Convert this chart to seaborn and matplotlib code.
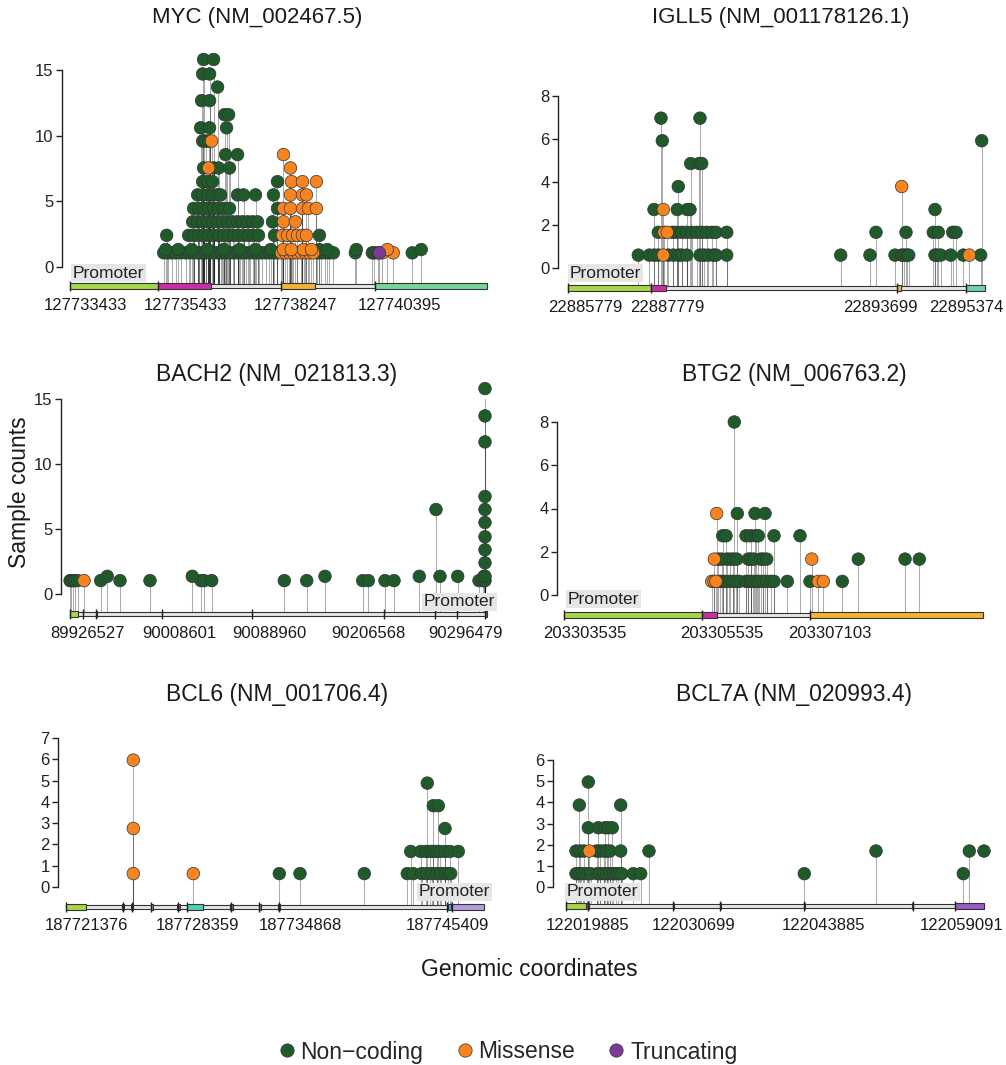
import numpy as np
import pandas as pd
import matplotlib
matplotlib.use("Agg")
import matplotlib.pyplot as plt
from matplotlib.patches import Rectangle
from matplotlib.lines import Line2D
import seaborn as sns

sns.set_theme(style="ticks")
plt.rcParams["font.family"] = ["Liberation Sans", "DejaVu Sans"]

# ---- data: (display height, kind, genomic positions) ----
kind_names = {"N": "Non\u2212coding", "M": "Missense", "T": "Truncating"}

myc_muts = [
    (1.08, "N", [127735570, 127735661, 127735752, 127735843, 127735957, 127736071, 127736162,
                 127736253, 127736344, 127736435, 127736526, 127736617, 127736708, 127736799,
                 127736890, 127736981, 127737072, 127737164, 127737255, 127737346, 127737437,
                 127737528, 127737619, 127737710, 127737801, 127737892, 127737983, 127738074,
                 127738165, 127739076, 127739167, 127739258, 127739349, 127739440,
                 127739941, 127740329, 127740374, 127740465, 127741239]),
    (1.08, "M", [127738256, 127738347, 127738438, 127738530, 127738621, 127738712, 127738803,
                 127738894, 127738985, 127740556, 127740807]),
    (1.08, "T", [127740488]),
    (1.33, "N", [127735615, 127735900, 127736210, 127736570, 127736940, 127737300, 127737660,
                 127738010, 127739120, 127739300, 127739964, 127741444]),
    (1.33, "M", [127738300, 127738480, 127738760, 127738940, 127740670]),
    (2.41, "N", [127735638, 127736139, 127736253, 127736367, 127736480, 127736594, 127736708,
                 127736822, 127736936, 127737050, 127737164, 127737277, 127737391, 127737505,
                 127737619, 127737733, 127738097, 127739122]),
    (2.41, "M", [127738279, 127738393, 127738507, 127738621, 127738735, 127738826]),
    (3.44, "N", [127736230, 127736344, 127736458, 127736572, 127736685, 127736799, 127736913,
                 127737027, 127737141, 127737255, 127737368, 127737482, 127737596, 127737710,
                 127738052]),
    (3.44, "M", [127738302, 127738575]),
    (4.46, "N", [127736253, 127736367, 127736480, 127736594, 127736708, 127736822, 127736936,
                 127737072, 127738165]),
    (4.46, "M", [127738302, 127738461, 127738735, 127738871, 127739053]),
    (5.49, "N", [127736344, 127736458, 127736572, 127736685, 127736799, 127736868, 127737255,
                 127737391, 127737664, 127738074]),
    (5.49, "M", [127738461, 127738735, 127738826]),
    (6.5, "N", [127736458, 127736572, 127736685, 127738165]),
    (6.5, "M", [127738484, 127738735, 127739053]),
    (7.54, "N", [127736480, 127736708, 127736822, 127737072]),
    (7.54, "M", [127736594, 127738461]),
    (8.56, "N", [127736981, 127737255]),
    (8.56, "M", [127738302]),
    (9.59, "N", [127736458, 127736526, 127736594]),
    (9.59, "M", [127736663]),
    (10.6, "N", [127736412, 127736617, 127737004]),
    (11.6, "N", [127736959, 127737050]),
    (12.67, "N", [127736435, 127736617]),
    (13.7, "N", [127736799]),
    (14.7, "N", [127736458, 127736617]),
    (15.8, "N", [127736480, 127736708]),
]

igll5_muts = [
    (0.6, "N", [22887473, 22887738, 22887852, 22887955, 22888196, 22888317, 22888437, 22888519,
                22888640, 22888960, 22889057, 22889160, 22889281, 22889346, 22889604, 22892351,
                22893057, 22893660, 22893821, 22893877, 22893942, 22893990, 22894624, 22894679,
                22894761, 22895002, 22895306, 22895725]),
    (0.6, "M", [22888076, 22895450]),
    (1.66, "N", [22887955, 22888302, 22888399, 22888519, 22888640, 22888760, 22888881, 22889001,
                 22889122, 22889242, 22889346, 22889604, 22893202, 22893925, 22894583, 22894703,
                 22895050, 22895130]),
    (1.66, "M", [22888093, 22888172]),
    (2.72, "N", [22887852, 22888413, 22888654, 22888719, 22894624]),
    (2.72, "M", [22888076]),
    (3.79, "N", [22888437]),
    (3.79, "M", [22893821]),
    (4.86, "N", [22888736, 22888943, 22889001]),
    (5.92, "N", [22888052, 22895749]),
    (6.97, "N", [22888020, 22888960]),
]

bach2_muts = [
    (1.03, "N", [89926627, 89927418, 89929200, 89930982, 89933210, 89953881, 89971077, 89997807,
                 90043248, 90045921, 90052782, 90117468, 90137427, 90187323, 90192312, 90207192,
                 90215211, 90290946, 90294500, 90296292]),
    (1.03, "M", [89939001]),
    (1.36, "N", [89959761, 90035496, 90153732, 90237753, 90256197, 90271968, 90295400, 90296292]),
    (2.4, "N", [90296292]),
    (3.4, "N", [90296292]),
    (4.4, "N", [90296292]),
    (5.5, "N", [90296292]),
    (6.5, "N", [90252633, 90296292]),
    (7.5, "N", [90296292]),
    (11.7, "N", [90296292]),
    (13.7, "N", [90296292]),
    (15.8, "N", [90296292]),
]

btg2_muts = [
    (0.63, "N", [203305797, 203305836, 203305884, 203305932, 203305981, 203306029, 203306077,
                 203306174, 203306207, 203306242, 203306280, 203306329, 203306367, 203306425,
                 203306474, 203306532, 203306580, 203306773, 203307102, 203307570]),
    (0.63, "M", [203305677, 203305710, 203305739, 203307222, 203307295]),
    (1.66, "N", [203305772, 203305822, 203305894, 203305942, 203305990, 203306039, 203306207,
                 203306242, 203306290, 203306387, 203306425, 203306474, 203307802, 203308480,
                 203308687]),
    (1.66, "M", [203305714, 203307127]),
    (2.74, "N", [203305836, 203305884, 203306174, 203306242, 203306319, 203306352, 203306580,
                 203306957]),
    (3.77, "N", [203306048, 203306305, 203306450]),
    (3.77, "M", [203305749]),
    (8.0, "N", [203306004]),
]

bcl6_muts = [
    (0.63, "M", [187725623, 187729409]),
    (2.75, "M", [187725623]),
    (5.96, "M", [187725623]),
    (0.63, "N", [187734835, 187736141, 187740199, 187742912, 187743291, 187743821, 187744136,
                 187744452, 187744767, 187745020, 187745291, 187745499, 187745651]),
    (1.67, "N", [187743127, 187743758, 187744092, 187744345, 187744553, 187744767, 187744975,
                 187745291, 187745606, 187746130]),
    (2.75, "N", [187745291]),
    (3.82, "N", [187744553, 187744868]),
    (4.88, "N", [187744174]),
]

bcl7a_muts = [
    (0.63, "N", [122020893, 122021125, 122021367, 122021629, 122022032, 122022375, 122023040,
                 122023312, 122023715, 122023988, 122024320, 122024653, 122024925, 122025157,
                 122025500, 122026669, 122027415, 122043906, 122059933]),
    (1.7, "N", [122020893, 122021296, 122021699, 122022980, 122023312, 122023715, 122023988,
                122024320, 122025399, 122028251, 122051133, 122060538, 122062019]),
    (1.7, "M", [122022234]),
    (2.8, "N", [122022133, 122023141, 122023816, 122024149, 122024552]),
    (3.87, "N", [122021226, 122025399]),
    (4.96, "N", [122022133]),
]

# gene tracks: (start, end) of promoter / exons
myc_exons = [(127733433, 127735433), (127735433, 127736640), (127738247, 127739020),
             (127740395, 127742944)]
igll5_exons = [(22885779, 22887779), (22887779, 22888140), (22893699, 22893800),
               (22895374, 22895829)]
bach2_exons = [(89926527, 89933655), (89938000, 89938300), (89949693, 89950400),
               (90008500, 90008700), (90088850, 90089050), (90206450, 90206650),
               (90251650, 90251850), (90271250, 90271450), (90296479, 90298074)]
btg2_exons = [(203303535, 203305535), (203305535, 203305753), (203307103, 203309610)]
bcl6_exons = [(187721376, 187722638), (187724910, 187725036), (187725509, 187725604),
              (187726740, 187726866), (187728380, 187728569), (187729011, 187730020),
              (187731724, 187731914), (187733554, 187733680), (187734784, 187734879),
              (187745480, 187745670), (187745670, 187747752)]
bcl7a_exons = [(122019885, 122021901), (122021901, 122022203), (122030650, 122030750),
               (122035360, 122035460), (122043840, 122043940), (122054810, 122054910),
               (122059091, 122062019)]

myc_span = (127733433, 127742944)
igll5_span = (22885779, 22895829)
bach2_span = (89926527, 90298074)
btg2_span = (203303535, 203309610)
bcl6_span = (187721376, 187747752)
bcl7a_span = (122019885, 122062019)

myc_ticks = [127733433, 127735433, 127738247, 127740395]
igll5_ticks = [22885779, 22887779, 22893699, 22895374]
bach2_ticks = [89926527, 89938110, 89949693, 90008601, 90088960, 90206568, 90251742,
               90271344, 90296479]
btg2_ticks = [203303535, 203305535, 203307103]
bcl6_ticks = [187721376, 187724973, 187725541, 187726740, 187728443, 187729011, 187731788,
              187733554, 187734816, 187745417, 187745733]
bcl7a_ticks = [122019885, 122022103, 122030699, 122035408, 122043885, 122054863, 122059091]

myc_labels = ["127733433", "127735433", "127738247", "127740395"]
igll5_labels = ["22885779", "22887779", "22893699", "22895374"]
bach2_labels = ["89926527", "90008601", "90088960", "90206568", "90296479"]
btg2_labels = ["203303535", "203305535", "203307103"]
bcl6_labels = ["187721376", "187728359", "187734868", "187745409"]
bcl7a_labels = ["122019885", "122030699", "122043885", "122059091"]

# where the (spread out) coordinate labels sit
myc_label_at = [127733790, 127736071, 127738572, 127740940]
igll5_label_at = [22886189, 22888165, 22893298, 22895371]
bach2_label_at = [89941674, 90023515, 90103836, 90192307, 90278472]
btg2_label_at = [203303840, 203305826, 203307392]
bcl6_label_at = [187722682, 187729674, 187736141, 187745417]
bcl7a_label_at = [122022052, 122032787, 122045891, 122059772]

# ---- styles ----
kind_colors = {"Non\u2212coding": "#1f5b2a", "Missense": "#f7841f", "Truncating": "#7b3a96"}
LG, MAG, ORG, MINT = "#a6d64a", "#c92ea6", "#f5b335", "#74d69b"
myc_cols = [LG, MAG, ORG, MINT]
igll5_cols = [LG, MAG, ORG, "#6fd3a6"]
bach2_cols = [LG, "#444444", ORG, "#555555", "#555555", "#555555", "#555555", "#555555", "#3b5b7a"]
btg2_cols = [LG, MAG, ORG]
bcl6_cols = [LG, MAG, "#a0722a", "#4cb89a", MAG, "#4fcfb4", "#8e4fb8", "#d9534f", "#333333",
             "#2ab7d6", "#b89be0"]
bcl7a_cols = [LG, MAG, "#444444", "#444444", "#8a3050", "#2f8f7a", "#9a5cc6"]

W, H = 1006, 1065
fig = plt.figure(figsize=(W / 100, H / 100), dpi=100)

panels = [
    ("MYC (NM_002467.5)", myc_muts, myc_exons, myc_cols, myc_span, myc_ticks, myc_labels,
     myc_label_at, dict(px=(70, 487), track=286, zero=267, top=70, ytop=15, step=5, spine=8,
                        title=(257, 18), tsize=16, prom=(127733494, "left", 13))),
    ("IGLL5 (NM_001178126.1)", igll5_muts, igll5_exons, igll5_cols, igll5_span, igll5_ticks,
     igll5_labels, igll5_label_at,
     dict(px=(568, 985), track=288, zero=268, top=96, ytop=8, step=2, spine=10,
          title=(781, 18), tsize=16, prom=(22885827, "left", 15))),
    ("BACH2 (NM_021813.3)", bach2_muts, bach2_exons, bach2_cols, bach2_span, bach2_ticks,
     bach2_labels, bach2_label_at,
     dict(px=(70, 487), track=614, zero=594, top=399, ytop=15, step=5, spine=9,
          title=(277, 375), tsize=16.5, prom=(90305202, "right", 12))),
    ("BTG2 (NM_006763.2)", btg2_muts, btg2_exons, btg2_cols, btg2_span, btg2_ticks,
     btg2_labels, btg2_label_at,
     dict(px=(564, 983), track=615, zero=595, top=422, ytop=8, step=2, spine=7,
          title=(794, 375), tsize=16.5, prom=(203303593, "left", 16))),
    ("BCL6 (NM_001706.4)", bcl6_muts, bcl6_exons, bcl6_cols, bcl6_span, bcl6_ticks,
     bcl6_labels, bcl6_label_at,
     dict(px=(66, 484), track=907, zero=887, top=738, ytop=7, step=1, spine=8,
          title=(277, 695), tsize=16.5, prom=(187748130, "right", 15))),
    ("BCL7A (NM_020993.4)", bcl7a_muts, bcl7a_exons, bcl7a_cols, bcl7a_span, bcl7a_ticks,
     bcl7a_labels, bcl7a_label_at,
     dict(px=(566, 984), track=906, zero=887, top=760, ytop=6, step=1, spine=13,
          title=(794, 695), tsize=16.5, prom=(122019986, "left", 14))),
]

PT = 72 / 100  # points per pixel

for title, muts, exons, cols, span, ticks, labels, label_at, cfg in panels:
    left, right = cfg["px"]
    ax = fig.add_axes([left / W, 1 - cfg["track"] / H, (right - left) / W,
                       (cfg["track"] - cfg["top"]) / H])
    ppu = (cfg["zero"] - cfg["top"]) / cfg["ytop"]
    ybot = -(cfg["track"] - cfg["zero"]) / ppu

    rows = [(p, h, kind_names[k]) for h, k, plist in muts for p in plist]
    df = pd.DataFrame(rows, columns=["pos", "height", "kind"])
    order = {"Non\u2212coding": 0, "Missense": 1, "Truncating": 2}
    df = df.sort_values("kind", key=lambda s: s.map(order), kind="stable")

    # stems
    ax.vlines(df["pos"], ybot, df["height"], color="black", alpha=0.32, lw=0.75, zorder=1)

    # backbone and exons
    bb = 4 / ppu
    ax.add_patch(Rectangle((span[0], ybot - bb / 2), span[1] - span[0], bb, fc="#e6e6e6",
                           ec="#333333", lw=0.8, zorder=1.2, clip_on=False))
    eh = 6 / ppu
    for (s, e), c in zip(exons, cols):
        ax.add_patch(Rectangle((s, ybot - eh / 2), e - s, eh, fc=c, ec="#333333", lw=0.8,
                               zorder=1.4, clip_on=False))

    sns.scatterplot(data=df, x="pos", y="height", hue="kind", palette=kind_colors, s=82,
                    edgecolor="#333333", linewidth=0.5, legend=False, ax=ax, zorder=4,
                    clip_on=False)

    ax.set_xlim(*span)
    ax.set_ylim(ybot, cfg["ytop"])
    ax.set_xlabel("")
    ax.set_ylabel("")
    ax.set_facecolor("none")
    ax.set_axisbelow(False)
    for side in ("top", "right", "bottom"):
        ax.spines[side].set_visible(False)
    ax.spines["left"].set_position(("outward", cfg["spine"] * PT))
    ax.spines["left"].set_bounds(0, cfg["ytop"])
    ax.spines["left"].set_linewidth(1.0)
    ax.spines["left"].set_color("#222222")
    ax.set_yticks(np.arange(0, cfg["ytop"] + 1, cfg["step"]))
    ax.tick_params(axis="y", length=4, width=1.0, labelsize=12, pad=2, colors="#222222")
    ax.set_xticks(ticks)
    ax.set_xticklabels([])
    ax.tick_params(axis="x", direction="inout", length=10 * PT, width=1.0, colors="#222222")

    for lab, at in zip(labels, label_at):
        ax.annotate(lab, xy=(at, ybot), xytext=(0, -19 * PT), textcoords="offset points",
                    ha="center", va="center", fontsize=12, color="#1a1a1a",
                    annotation_clip=False)

    px_, ha, dy = cfg["prom"]
    ax.annotate("Promoter", xy=(px_, ybot), xytext=(0, dy * PT), textcoords="offset points",
                ha=ha, va="center", fontsize=12.5, color="#222222", zorder=5,
                annotation_clip=False,
                bbox=dict(boxstyle="square,pad=0.1", fc="#e6e6e6", ec="none"))

    tx, ty = cfg["title"]
    fig.text(tx / W, 1 - ty / H, title, ha="center", va="center", fontsize=cfg["tsize"],
             color="#1a1a1a")

fig.text(20 / W, 1 - 492 / H, "Sample counts", rotation=90, ha="center", va="center",
         fontsize=16.5, color="#1a1a1a")
fig.text(529 / W, 1 - 970 / H, "Genomic coordinates", ha="center", va="center",
         fontsize=16.5, color="#1a1a1a")

handles = [Line2D([], [], marker="o", linestyle="", markersize=9.6, markerfacecolor=c,
                  markeredgecolor="#333333", markeredgewidth=0.5)
           for c in kind_colors.values()]
fig.legend(handles, list(kind_colors.keys()), loc="center", bbox_to_anchor=(0.505, 1 - 1052 / H),
           ncol=3, frameon=False, fontsize=16.5, handlelength=0.7, handletextpad=0.25,
           columnspacing=1.45)

fig.savefig("out.png", dpi=100)
